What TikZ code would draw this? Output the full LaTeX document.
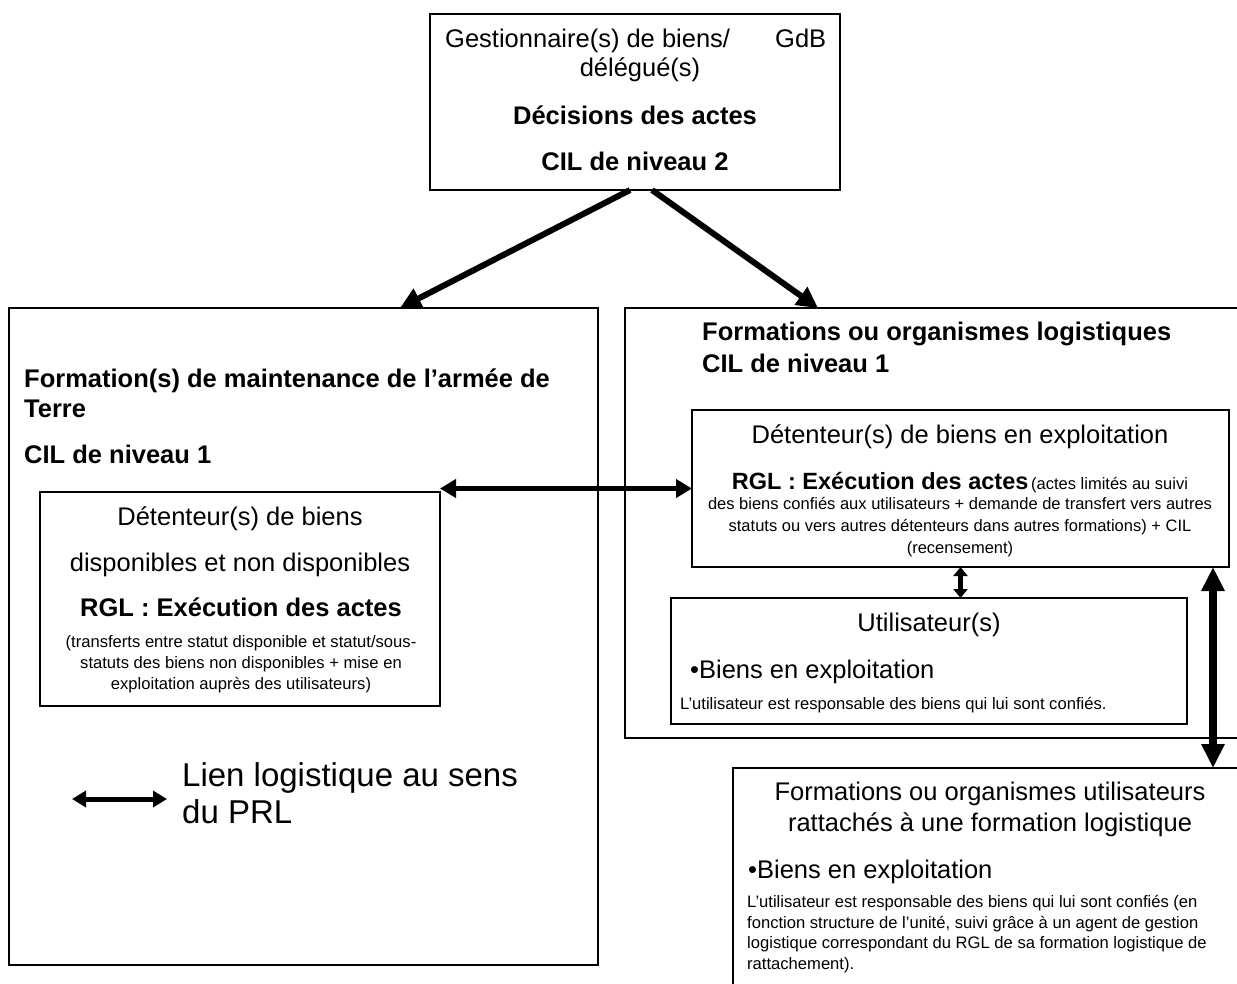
\documentclass[tikz,border=0pt]{standalone}
\usepackage{fontspec}
\setmainfont{Liberation Sans}
\usetikzlibrary{arrows.meta}
\newcommand\fBig{\fontsize{25.5}{30}\selectfont}
\newcommand\fMidB{\fontsize{23.5}{28}\selectfont}
\newcommand\fHead{\fontsize{25.5}{31}\selectfont}
\newcommand\fSm{\fontsize{16.5}{22}\selectfont}
\newcommand\fSmm{\fontsize{16.6}{21}\selectfont}
\newcommand\fLeg{\fontsize{33}{37}\selectfont}
\begin{document}
\begin{tikzpicture}[x=1pt,y=-1pt,
  box/.style={draw=black, line width=1.5pt, rectangle, inner sep=0pt, outer sep=0pt},
  txt/.style={inner sep=0pt, anchor=base},
  txtw/.style={inner sep=0pt, anchor=base west},
  fat/.style={line width=6pt, -{Triangle[length=21pt,width=21pt]}},
  dbl/.style={line width=5pt, {Triangle[length=16pt,width=18pt]}-{Triangle[length=16pt,width=18pt]}},
  dblsm/.style={line width=4.5pt, {Triangle[length=9pt,width=14pt]}-{Triangle[length=9pt,width=14pt]}},
  dblbig/.style={line width=8pt, {Triangle[length=24pt,width=22pt]}-{Triangle[length=24pt,width=22pt]}},
  legarrow/.style={line width=5pt, {Triangle[length=14pt,width=16pt]}-{Triangle[length=14pt,width=16pt]}}]
\useasboundingbox (0,0) rectangle (1237,983);
\clip (0,0) rectangle (1237,983);
\fill[white] (0,0) rectangle (1237,983);

% boxes
\node[box, minimum width=410pt, minimum height=176pt] (top) at (635,102) {};
\node[box, minimum width=589pt, minimum height=657pt] (lbox) at (303.5,636.5) {};
\node[box, minimum width=400pt, minimum height=214pt] (lin) at (240,599) {};
\node[box, minimum width=632pt, minimum height=430pt] (rbox) at (941,523) {};
\node[box, minimum width=537pt, minimum height=157pt, fill=white] (rin) at (960.5,488.5) {};
\node[box, minimum width=516pt, minimum height=126pt, fill=white] (util) at (929,661) {};
\node[box, minimum width=524pt, minimum height=232pt] (brbox) at (995,884) {};

% top box text
\node[txtw] (t1) at (445,47) {\fBig Gestionnaire(s) de biens/};
\node[txtw] (t2) at (775,47) {\fBig GdB};
\node[txt] (t3) at (640,76) {\fBig délégué(s)};
\node[txt] (t4) at (635,124) {\fBig\bfseries Décisions des actes};
\node[txt] (t5) at (635,170) {\fBig\bfseries CIL de niveau 2};

% left box text
\node[txtw] (l1) at (24,387) {\fBig\bfseries Formation(s) de maintenance de l’armée de};
\node[txtw] (l2) at (24,417) {\fBig\bfseries Terre};
\node[txtw] (l3) at (24,463) {\fBig\bfseries CIL de niveau 1};
\node[txt] (li1) at (240,525) {\fBig Détenteur(s) de biens};
\node[txt] (li2) at (240,571) {\fBig disponibles et non disponibles};
\node[txt] (li3) at (241,616) {\fBig\bfseries RGL : Exécution des actes};
\node[txt] (li4) at (241,647) {\fSmm (transferts entre statut disponible et statut/sous-};
\node[txt] (li5) at (241,668) {\fSmm statuts des biens non disponibles + mise en};
\node[txt] (li6) at (241,689) {\fSmm exploitation auprès des utilisateurs)};

% legend
\coordinate (legL) at (72,799);
\coordinate (legR) at (167,799);
\draw[legarrow] (legL) -- (legR);
\node[txtw] (lg1) at (182,786) {\fLeg Lien logistique au sens};
\node[txtw] (lg2) at (182,823) {\fLeg du PRL};

% right box text
\node[txtw] (r1) at (702,340) {\fBig\bfseries Formations ou organismes logistiques};
\node[txtw] (r2) at (702,372) {\fBig\bfseries CIL de niveau 1};
\node[txt] (ri1) at (960,443) {\fBig Détenteur(s) de biens en exploitation};
\node[txt] (ri2) at (960,489) {{\fMidB\bfseries RGL : Exécution des actes} {\fSm (actes limités au suivi}};
\node[txt] (ri3) at (960,509) {\fSm des biens confiés aux utilisateurs + demande de transfert vers autres};
\node[txt] (ri4) at (960,531) {\fSm statuts ou vers autres détenteurs dans autres formations) + CIL};
\node[txt] (ri5) at (960,553) {\fSm (recensement)};

% utilisateur box
\node[txt] (u1) at (929,631) {\fBig Utilisateur(s)};
\node[txtw] (u2) at (690,678) {\fBig •Biens en exploitation};
\node[txtw] (u3) at (680,709) {\fSmm L’utilisateur est responsable des biens qui lui sont confiés.};

% bottom right box
\node[txt] (b1) at (990,800) {\fHead Formations ou organismes utilisateurs};
\node[txt] (b2) at (990,831) {\fHead rattachés à une formation logistique};
\node[txtw] (b3) at (748,878) {\fBig •Biens en exploitation};
\node[txtw] (b4) at (747,907) {\fSmm L’utilisateur est responsable des biens qui lui sont confiés (en};
\node[txtw] (b5) at (747,928) {\fSmm fonction structure de l’unité, suivi grâce à un agent de gestion};
\node[txtw] (b6) at (747,948) {\fSmm logistique correspondant du RGL de sa formation logistique de};
\node[txtw] (b7) at (747,969) {\fSmm rattachement).};

% connectors
\draw[fat] ([xshift=-5pt]top.south) -- ([xshift=96.5pt]lbox.north);
\draw[fat] ([xshift=17pt]top.south) -- ([xshift=-123pt]rbox.north);
\draw[dbl] (rin.west -| lin.east) -- (rin.west);
\draw[dblsm] (rin.south) -- (rin.south |- util.north);
\coordinate (vtop) at ([xshift=-16pt]rin.south east);
\draw[dblbig] (vtop) -- (vtop |- brbox.north);
\end{tikzpicture}
\end{document}
